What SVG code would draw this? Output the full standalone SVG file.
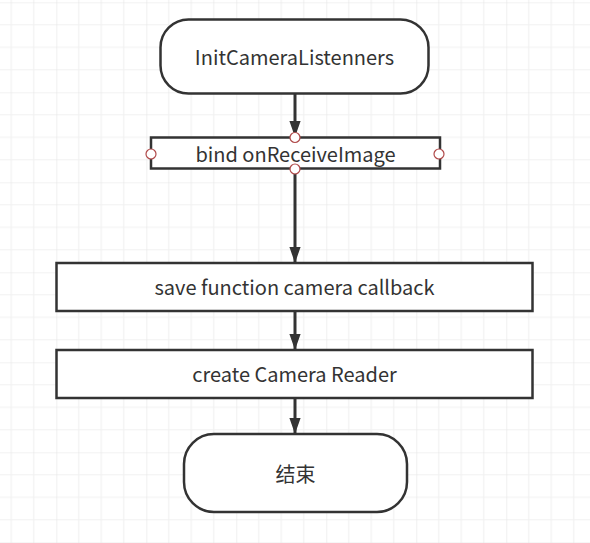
<svg xmlns="http://www.w3.org/2000/svg" width="590" height="543" viewBox="0 0 590 543">
  <defs>
    <pattern id="grid" patternUnits="userSpaceOnUse" x="-33.7" y="2.3" width="90" height="90">
      <path d="M22.5 0V90M45 0V90M67.5 0V90M0 22.5H90M0 45H90M0 67.5H90" stroke="#f1f1f1" stroke-width="1.2" fill="none"/>
      <path d="M0 0V90M0 0H90" stroke="#e6e6e6" stroke-width="1.2" fill="none"/>
    </pattern>
    <marker id="arrow" markerUnits="userSpaceOnUse" markerWidth="16" markerHeight="22" refX="20" refY="7" orient="auto" viewBox="0 0 20 14">
      <path d="M0 0L20 7L0 14Z" fill="#333"/>
    </marker>
    <style>
      .box { fill: #fff; stroke: #333; stroke-width: 2.5; }
      .lbl { font-family: "Noto Sans CJK SC", "Noto Sans", sans-serif; font-size: 20px; fill: #333; text-anchor: middle; dominant-baseline: central; }
      .edge { stroke: #333; stroke-width: 3; fill: none; }
      .port { fill: #fff; stroke: #b04a4a; stroke-width: 1.2; }
    </style>
  </defs>
  <rect width="590" height="543" fill="#fff"/>
  <rect width="590" height="543" fill="url(#grid)"/>

  <g id="connectors">
    <path class="edge" d="M295 94V137" marker-end="url(#arrow)"/>
    <path class="edge" d="M295 169V263" marker-end="url(#arrow)"/>
    <path class="edge" d="M295 311V350" marker-end="url(#arrow)"/>
    <path class="edge" d="M295 398V434" marker-end="url(#arrow)"/>
  </g>

  <g id="start">
    <rect class="box" x="160.5" y="19.5" width="268" height="74" rx="28" ry="28"/>
    <text class="lbl" x="294.5" y="56">InitCameraListenners</text>
  </g>

  <g id="bind">
    <rect class="box" x="151" y="137.5" width="289" height="31"/>
    <text class="lbl" x="295.5" y="153">bind onReceiveImage</text>
    <circle class="port" cx="295" cy="137.5" r="5"/>
    <circle class="port" cx="151" cy="154" r="5"/>
    <circle class="port" cx="439" cy="154" r="5"/>
    <circle class="port" cx="295" cy="169" r="5"/>
  </g>

  <g id="save">
    <rect class="box" x="56.5" y="263" width="476" height="48"/>
    <text class="lbl" x="294.5" y="286">save function camera callback</text>
  </g>

  <g id="create">
    <rect class="box" x="56.5" y="350" width="476" height="48"/>
    <text class="lbl" x="294.5" y="373">create Camera Reader</text>
  </g>

  <g id="end">
    <rect class="box" x="184" y="434" width="223" height="78" rx="30" ry="30"/>
    <text class="lbl" x="295.5" y="473">结束</text>
  </g>
</svg>
